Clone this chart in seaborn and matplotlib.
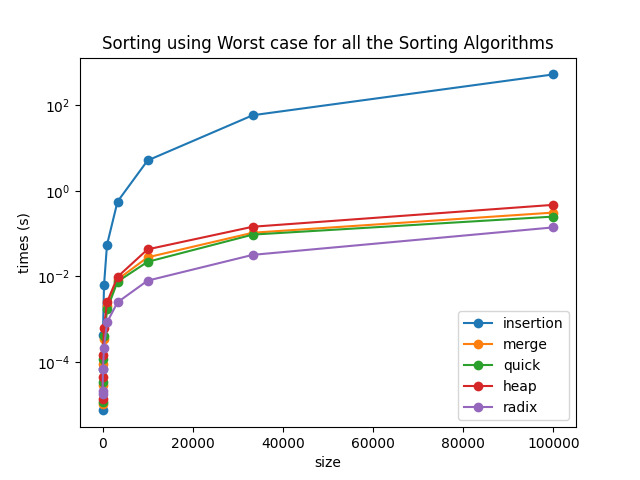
import numpy as np
import pandas as pd
import matplotlib
matplotlib.use('Agg')
import matplotlib.pyplot as plt
import matplotlib.ticker as mticker
import seaborn as sns

# input sizes used for the worst-case runs
sizes = [10, 33, 100, 333, 1000, 3333, 10000, 33333, 100000]

insertion = [7.5e-6, 6.8e-5, 4.3e-4, 6.2e-3, 5.5e-2, 0.56, 5.1, 58.0, 520.0]
merge = [1.05e-5, 3.0e-5, 9.0e-5, 3.4e-4, 2.0e-3, 8.5e-3, 0.028, 0.105, 0.31]
quick = [1.2e-5, 3.5e-5, 1.2e-4, 4.0e-4, 1.7e-3, 7.6e-3, 0.022, 0.095, 0.25]
heap = [1.4e-5, 4.5e-5, 1.5e-4, 6.4e-4, 2.5e-3, 9.8e-3, 0.043, 0.145, 0.47]
radix = [1.8e-5, 2.1e-5, 6.9e-5, 2.2e-4, 8.5e-4, 2.5e-3, 8.0e-3, 0.032, 0.14]

algorithms = ["insertion", "merge", "quick", "heap", "radix"]
times = [insertion, merge, quick, heap, radix]
ytick_vals = [1e-4, 1e-2, 1e0, 1e2]

rows = []
for name, vals in zip(algorithms, times):
    for s, t in zip(sizes, vals):
        rows.append({"size": s, "times": t, "algorithm": name})
df = pd.DataFrame(rows)

fig, ax = plt.subplots(figsize=(6.4, 4.8), dpi=100)
palette = sns.color_palette("tab10", len(algorithms))
for name, color in zip(algorithms, palette):
    sub = df[df["algorithm"] == name]
    sns.lineplot(data=sub, x="size", y="times", marker="o", markeredgewidth=0,
                 markersize=7, color=color, label=name, ax=ax)

ax.set_yscale("log")
ax.set_yticks(ytick_vals)
ax.yaxis.set_minor_locator(mticker.NullLocator())
ax.set_title("Sorting using Worst case for all the Sorting Algorithms")
ax.set_xlabel("size")
ax.set_ylabel("times (s)")
ax.legend(loc="lower right")
plt.savefig("out.png", dpi=100)
